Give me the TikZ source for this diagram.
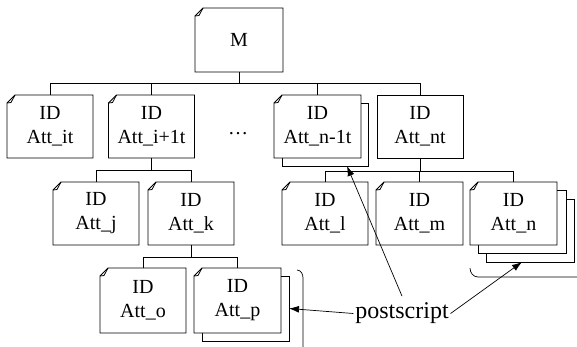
\documentclass[tikz,border=0pt]{standalone}
\usepackage{fontspec}
\setmainfont{Liberation Serif}
\usetikzlibrary{arrows.meta}

% a note box: white rectangle with a folded top-left corner
\newcommand\notebox[4]{%
  \node[boxtext,#3] (#1) at (#2) {#4};
  \draw (#1.south west) -- ([yshift=-8pt]#1.north west) -- ([xshift=8pt]#1.north west)
        -- (#1.north east) -- (#1.south east) -- cycle;
  \draw ([yshift=-8pt]#1.north west) -- ([xshift=4pt,yshift=-7.5pt]#1.north west)
        -- ([xshift=8pt]#1.north west);
}

\begin{document}
\begin{tikzpicture}[x=1pt,y=-1pt,line width=0.8pt,
  boxtext/.style={minimum width=86pt,minimum height=63pt,inner sep=0pt,outer sep=0pt,
                  align=center,fill=white,font=\fontsize{20}{24}\selectfont},
  shadowbox/.style={draw,fill=white,minimum width=86pt,minimum height=63pt,
                    inner sep=0pt,outer sep=0pt},
  link/.style={line width=0.7pt},
  pointer/.style={line width=0.7pt,-{Latex[length=10pt,width=7pt]}},
  bracket/.style={line width=0.7pt},
]
\path[use as bounding box,clip] (0,0) rectangle (577,346);

% root
\notebox{M}{239,40}{minimum width=88pt,minimum height=64pt}{\raisebox{-4pt}{M}}

% first level
\notebox{it}{50,126.5}{}{ID\\Att\_it}
\notebox{ione}{151.5,126.5}{}{ID\\Att\_i+1t}
\node[font=\fontsize{20}{24}\selectfont] (dots) at (238,134) {\ldots};
\node[shadowbox] (nones) at (325,134.5) {};
\notebox{none}{317.5,126.5}{minimum width=87pt}{ID\\Att\_n-1t}
\node[boxtext,draw] (nt) at (420,126.5) {ID\\Att\_nt};

% second level, left branch
\notebox{j}{96,213.5}{}{ID\\Att\_j}
\notebox{k}{191,213.5}{}{ID\\Att\_k}

% third level
\notebox{o}{143,300.5}{minimum height=65pt}{ID\\Att\_o}
\node[shadowbox,minimum width=87pt,minimum height=65pt] (ps1) at (245.5,308.5) {};
\notebox{p}{237.5,300.5}{minimum width=87pt,minimum height=65pt}{ID\\Att\_p}

% second level, right branch
\notebox{l}{325,213.5}{}{ID\\Att\_l}
\notebox{m}{419.5,213.5}{minimum width=87pt}{ID\\Att\_m}
\node[shadowbox,minimum width=88pt] (ns2) at (530.5,230.5) {};
\node[shadowbox,minimum width=88pt] (ns1) at (522,222) {};
\notebox{n}{513.5,213.5}{minimum width=87pt}{ID\\Att\_n}

% tree connectors
\begin{scope}[link]
  \foreach \c in {it,ione,none,nt} \draw (M.south) -- ++(0,-11pt) -| (\c.north);
  \foreach \c in {j,k} \draw (ione.south) -- ++(0,-12pt) -| (\c.north);
  \foreach \c in {o,p} \draw (k.south) -- ++(0,-12pt) -| (\c.north);
  \foreach \c in {l,m,n} \draw (nt.south) -- ++(0,-13pt) -| (\c.north);
\end{scope}

% brackets marking repeated elements
\coordinate (pbr) at ([xshift=8pt,yshift=6pt]ps1.north east);
\draw[bracket] (pbr) to[out=0,in=90] ++(6pt,-8pt) -- ++(0,-80pt);
\coordinate (nbr) at ([xshift=-104.5pt,yshift=-6pt]ns2.south east);
\draw[bracket] (nbr) to[out=-90,in=180] ++(8pt,-9pt) -- ++(110pt,0);

% label and pointers
\node[font=\fontsize{24}{28}\selectfont,inner sep=1.5pt] (ps) at (402,313.5) {postscript};
\draw[pointer] (ps.west) -- (ps1.east);
\draw[pointer] ([yshift=5pt]ps.north) -- ([xshift=22pt]nones.south);
\draw[pointer] (ps.east) -- ([xshift=-8.5pt]ns2.south);
\end{tikzpicture}
\end{document}
